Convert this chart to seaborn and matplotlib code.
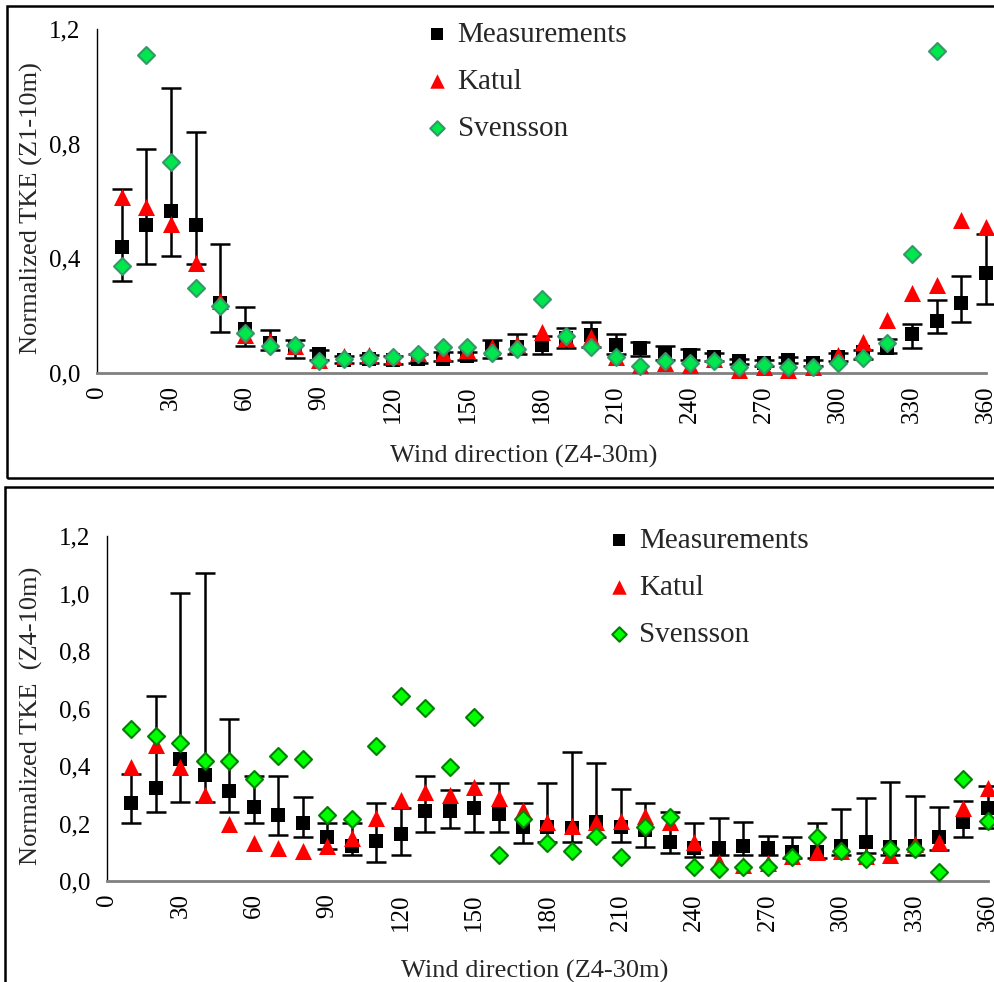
import numpy as np
import pandas as pd
import matplotlib
matplotlib.use("Agg")
import matplotlib.pyplot as plt
from matplotlib.patches import Rectangle
import seaborn as sns

sns.set_style("white")
plt.rcParams['font.family'] = ['Liberation Serif', 'DejaVu Serif']

directions = list(range(10, 361, 10))
xticks = list(range(0, 361, 30))

# top panel (Z1-10m)
meas_top = [0.44, 0.515, 0.565, 0.515, 0.245, 0.155, 0.105, 0.087, 0.066, 0.045, 0.048, 0.045,
            0.05, 0.05, 0.06, 0.09, 0.09, 0.098, 0.122, 0.133, 0.098, 0.087, 0.07, 0.063,
            0.056, 0.042, 0.035, 0.045, 0.035, 0.056, 0.073, 0.087, 0.136, 0.181, 0.244, 0.349]
upper_top = [0.64, 0.78, 0.994, 0.84, 0.45, 0.23, 0.15, 0.115, 0.08, 0.06, 0.062, 0.06,
             0.065, 0.073, 0.073, 0.115, 0.136, 0.13, 0.157, 0.178, 0.136, 0.108, 0.094, 0.083,
             0.07, 0.05, 0.045, 0.055, 0.045, 0.07, 0.08, 0.118, 0.171, 0.255, 0.338, 0.485]
lower_top = [0.32, 0.38, 0.408, 0.38, 0.143, 0.094, 0.08, 0.052, 0.045, 0.035, 0.035, 0.03,
             0.035, 0.04, 0.045, 0.052, 0.066, 0.066, 0.087, 0.09, 0.066, 0.059, 0.045, 0.045,
             0.04, 0.03, 0.025, 0.035, 0.025, 0.04, 0.048, 0.07, 0.087, 0.139, 0.178, 0.241]
katul_top = [0.615, 0.58, 0.52, 0.384, 0.25, 0.133, 0.11, 0.094, 0.045, 0.058, 0.062, 0.06,
             0.07, 0.07, 0.08, 0.09, 0.1, 0.143, 0.122, 0.125, 0.056, 0.028, 0.035, 0.028,
             0.05, 0.01, 0.02, 0.01, 0.02, 0.063, 0.108, 0.185, 0.28, 0.307, 0.534, 0.51]
svensson_top = [0.373, 1.11, 0.736, 0.297, 0.234, 0.139, 0.094, 0.098, 0.04, 0.048, 0.053, 0.055,
                0.065, 0.09, 0.09, 0.07, 0.083, 0.258, 0.129, 0.09, 0.055, 0.025, 0.04, 0.035,
                0.04, 0.02, 0.028, 0.02, 0.02, 0.035, 0.052, 0.104, 0.415, 1.124, np.nan, np.nan]

# bottom panel (Z4-10m)
meas_bot = [0.271, 0.323, 0.424, 0.369, 0.313, 0.258, 0.23, 0.202, 0.153, 0.12, 0.14, 0.162,
            0.244, 0.244, 0.254, 0.233, 0.188, 0.188, 0.184, 0.205, 0.188, 0.177, 0.136, 0.115,
            0.115, 0.122, 0.115, 0.1, 0.1, 0.122, 0.136, 0.118, 0.122, 0.153, 0.205, 0.254]
upper_bot = [0.372, 0.645, 1.0, 1.07, 0.563, 0.365, 0.365, 0.292, 0.2, 0.2, 0.27, 0.253,
             0.365, 0.317, 0.34, 0.34, 0.27, 0.34, 0.45, 0.41, 0.32, 0.27, 0.24, 0.2,
             0.22, 0.205, 0.157, 0.153, 0.2, 0.25, 0.29, 0.345, 0.297, 0.257, 0.278, 0.33]
lower_bot = [0.2, 0.24, 0.275, 0.275, 0.24, 0.2, 0.16, 0.152, 0.11, 0.09, 0.067, 0.09,
             0.17, 0.185, 0.17, 0.17, 0.132, 0.136, 0.136, 0.153, 0.136, 0.118, 0.097, 0.083,
             0.09, 0.09, 0.09, 0.08, 0.08, 0.09, 0.097, 0.09, 0.09, 0.108, 0.153, 0.185]
katul_bot = [0.397, 0.473, 0.397, 0.3, 0.198, 0.132, 0.115, 0.105, 0.122, 0.15, 0.22, 0.28,
             0.31, 0.3, 0.327, 0.288, 0.247, 0.205, 0.19, 0.205, 0.21, 0.226, 0.205, 0.136,
             0.066, 0.056, 0.063, 0.087, 0.1, 0.105, 0.087, 0.09, 0.13, 0.136, 0.254, 0.323]
svensson_bot = [0.528, 0.505, 0.48, 0.417, 0.417, 0.354, 0.435, 0.423, 0.23, 0.215, 0.47, 0.645,
                0.6, 0.397, 0.57, 0.09, 0.215, 0.132, 0.104, 0.157, 0.083, 0.188, 0.222, 0.049,
                0.042, 0.049, 0.05, 0.083, 0.153, 0.104, 0.076, 0.11, 0.11, 0.031, 0.355, 0.209]

fig = plt.figure(figsize=(9.95, 9.82), dpi=100)
ax1 = fig.add_axes([0.0975, 0.6202, 0.8935, 0.3503])
ax2 = fig.add_axes([0.1075, 0.1029, 0.8854, 0.3513])


def draw_panel(ax, meas, lo, hi, katul, svensson, yticks, ylabel, sv_face, sv_edge, leg_xy):
    df = pd.DataFrame({"dir": directions, "meas": meas, "katul": katul, "svensson": svensson})
    meas_arr = np.array(meas)
    yerr = [meas_arr - np.array(lo), np.array(hi) - meas_arr]
    eb = ax.errorbar(directions, meas, yerr=yerr, fmt='none', ecolor='black',
                     elinewidth=1.8, capsize=7, capthick=1.8, zorder=2)
    for art in eb.lines[1] + eb.lines[2]:
        art.set_clip_on(False)
    sns.scatterplot(data=df, x="dir", y="meas", ax=ax, marker='s', color='black',
                    s=95, edgecolor='black', linewidth=0, label="Measurements", zorder=3,
                    clip_on=False)
    sns.scatterplot(data=df, x="dir", y="katul", ax=ax, marker='^', color='#ff0000',
                    s=150, edgecolor='#ff0000', linewidth=0, label="Katul", zorder=4,
                    clip_on=False)
    sns.scatterplot(data=df, x="dir", y="svensson", ax=ax, marker='D', color=sv_face,
                    s=75, edgecolor=sv_edge, linewidth=1.5, label="Svensson", zorder=5,
                    clip_on=False)

    ax.set_xlim(0, 360)
    ax.set_ylim(0, 1.2)
    ax.set_xticks(xticks)
    ax.set_xticklabels([str(t) for t in xticks], rotation=90, fontsize=18)
    ax.set_yticks(yticks)
    ax.set_yticklabels([f"{t:.1f}".replace('.', ',') for t in yticks], fontsize=18)
    ax.tick_params(axis='both', direction='out', length=6, width=1, colors='black')
    ax.tick_params(axis='x', color='#606060', pad=3)
    ax.tick_params(axis='y', pad=6)
    for s in ['top', 'right']:
        ax.spines[s].set_visible(False)
    ax.spines['left'].set_color('black')
    ax.spines['left'].set_linewidth(1)
    ax.spines['bottom'].set_color('#808080')
    ax.spines['bottom'].set_linewidth(2)
    ax.set_ylabel(ylabel, fontsize=19, labelpad=6)
    ax.set_xlabel("Wind direction (Z4-30m)", fontsize=19)
    ax.grid(False)
    leg = ax.legend(loc='upper left', bbox_to_anchor=leg_xy, frameon=False, fontsize=21,
                    markerscale=0.85, handletextpad=0.2, labelspacing=0.71,
                    borderaxespad=0, handlelength=1.0)
    return leg


draw_panel(ax1, meas_top, lower_top, upper_top, katul_top, svensson_top,
           [0.0, 0.4, 0.8, 1.2], "Normalized TKE (Z1-10m)", '#00e64d', '#339966',
           (0.353, 1.056))
ax1.xaxis.set_label_coords(0.48, -0.21)
ax1.yaxis.set_label_coords(-0.061, 0.48)

draw_panel(ax2, meas_bot, lower_bot, upper_bot, katul_bot, svensson_bot,
           [0.0, 0.2, 0.4, 0.6, 0.8, 1.0, 1.2], "Normalized TKE  (Z4-10m)", '#00ff00', '#008000',
           (0.551, 1.059))
ax2.xaxis.set_label_coords(0.485, -0.228)
ax2.yaxis.set_label_coords(-0.073, 0.48)

# panel frames
fig.add_artist(Rectangle((7 / 995, 1 - 478 / 982), 1.2, 472 / 982, transform=fig.transFigure,
                         fill=False, edgecolor='black', linewidth=1.8))
fig.add_artist(Rectangle((5 / 995, -0.2), 1.2, 0.2 + 1 - 487 / 982, transform=fig.transFigure,
                         fill=False, edgecolor='black', linewidth=1.8))

fig.savefig("out.png", dpi=100)
